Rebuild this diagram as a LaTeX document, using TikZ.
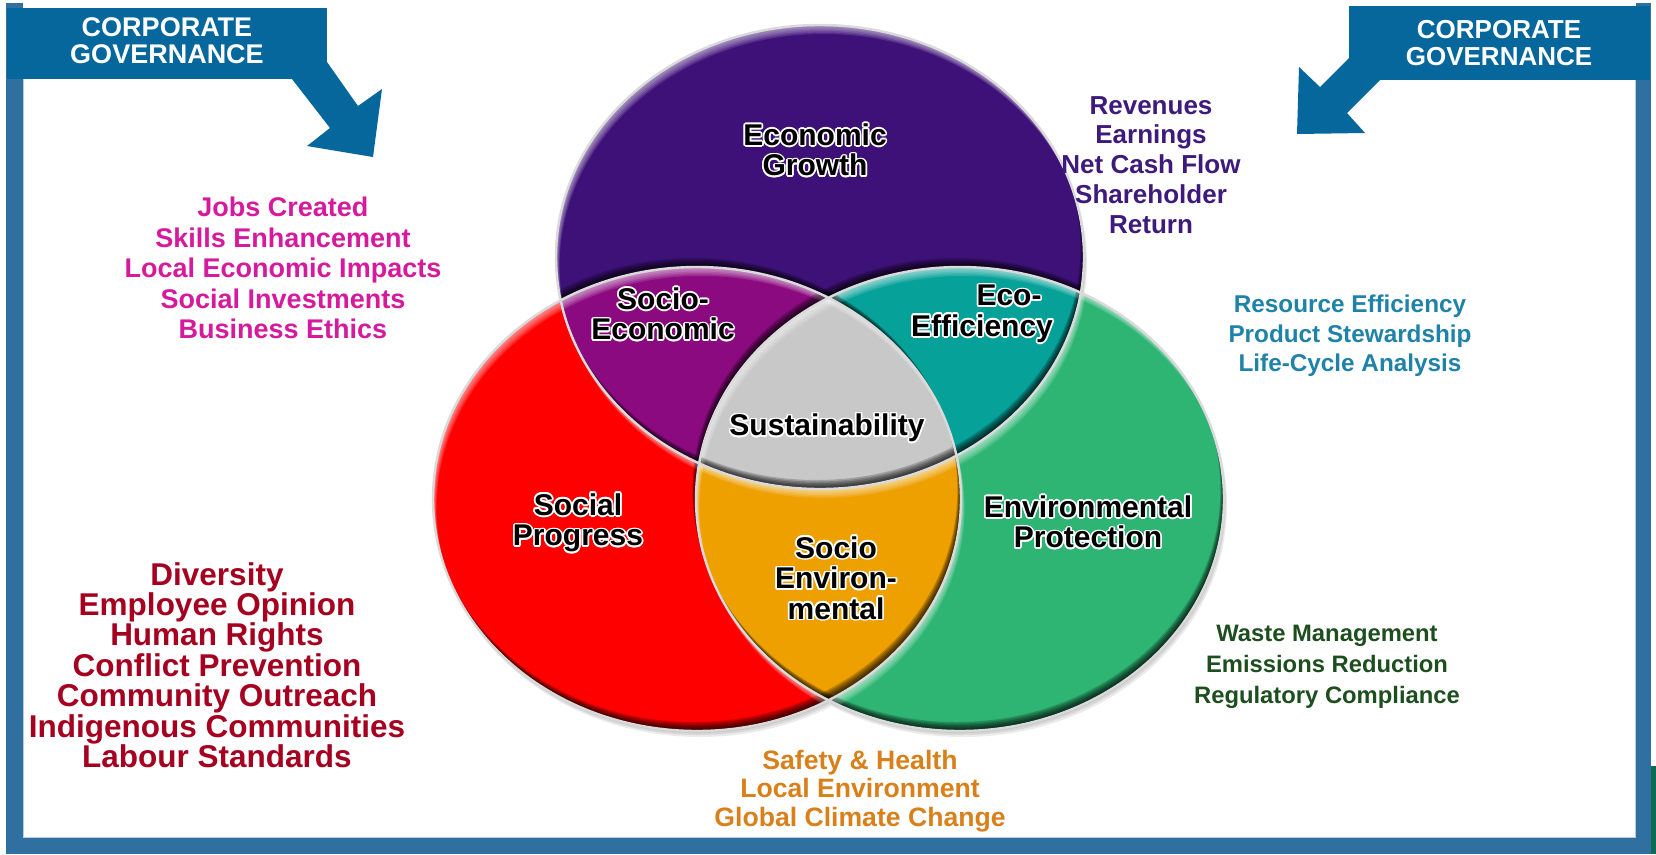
\documentclass[tikz,border=0pt]{standalone}
\usepackage{fontspec}
\setmainfont{Liberation Sans}

\definecolor{govblue}{HTML}{05679B}
\definecolor{framebl}{HTML}{3070A0}
\definecolor{stripgreen}{HTML}{0C6B52}
\definecolor{econcol}{HTML}{3E1179}
\definecolor{soccol}{HTML}{FF0000}
\definecolor{envcol}{HTML}{2EB574}
\definecolor{soceconcol}{HTML}{8C0A80}
\definecolor{ecoeffcol}{HTML}{06A29A}
\definecolor{socenvcol}{HTML}{EDA000}
\definecolor{sustcol}{HTML}{C8C8C8}
\definecolor{rimgray}{HTML}{DADADA}
\definecolor{txtecon}{HTML}{3D1A7C}
\definecolor{txtsocecon}{HTML}{D51A9E}
\definecolor{txtres}{HTML}{1F83A9}
\definecolor{txtwaste}{HTML}{1D4E1E}
\definecolor{txtsoc}{HTML}{A5001F}
\definecolor{txtsafe}{HTML}{D9801B}

% dark edge at lower right, light edge at upper left of a region
\newcommand\bevel[2]{%
  \foreach \s in {1.5,3,...,9}{
    \foreach \reg in {#1}{
      \fill[black,opacity=.2,even odd rule,shift={(-.4*\s,-\s)}] (-80,-80) rectangle (1740,940) [\reg];
      \fill[white,opacity=.12,even odd rule,shift={(.4*\s,\s)}] (-80,-80) rectangle (1740,940) [\reg];
    }
    \foreach \reg in {#2}{
      \fill[black,opacity=.2,shift={(-.4*\s,-\s)},\reg];
      \fill[white,opacity=.12,shift={(.4*\s,\s)},\reg];
    }
  }
}

% black label with a white glow
\newcommand\circlelabel[3]{%
  \foreach \ang in {0,30,...,330}
    \node[inlabel,text=white,shift={(\ang:1.7pt)}] at (#2) {#3};
  \node[inlabel] (#1) at (#2) {#3};
}

\begin{document}
\begin{tikzpicture}[x=1pt,y=-1pt,
    econ/.style={insert path={(820,257) ellipse [x radius=264, y radius=232]}},
    soc/.style={insert path={(697,499) ellipse [x radius=264, y radius=232]}},
    env/.style={insert path={(960,499) ellipse [x radius=264, y radius=232]}},
    none/.style={},
    inlabel/.style={font=\fontsize{30}{30.5}\selectfont\bfseries, align=center, inner sep=0pt},
    sidetext/.style={align=center, inner sep=0pt},
    govtext/.style={text=white, font=\fontsize{27}{27}\selectfont\bfseries, align=center, inner sep=0pt}]

  % Background
  \useasboundingbox (0,0) rectangle (1656,854);
  \fill[white] (0,0) rectangle (1656,854);

  % Frame
  \fill[framebl] (6,3) rectangle (23,854);
  \fill[framebl] (6,838) rectangle (1651,854);
  \fill[framebl] (1636,3) rectangle (1651,854);
  \fill[stripgreen] (1651,766) rectangle (1656,854);
  \draw[framebl!35, line width=1.5pt] (23.7,79) -- (23.7,837.3) -- (1635.3,837.3) -- (1635.3,80);

  % Corporate governance banners
  \fill[govblue] (7,8) rectangle (327,79);
  \fill[govblue] (327,62) -- (358,106) -- (382,89) -- (373,157) -- (307,146) -- (330,128) -- (292,79) -- cycle;
  \node[govtext] (govleft) at (167,41) {CORPORATE\\GOVERNANCE};

  \fill[govblue] (1349,6) rectangle (1650,80);
  \fill[govblue] (1349,58) -- (1320,87) -- (1299,67) -- (1297,134) -- (1365,133) -- (1347,113) -- (1380,80) -- cycle;
  \node[govtext, font=\fontsize{26}{27}\selectfont\bfseries] (govright) at (1499,43) {CORPORATE\\GOVERNANCE};

  % Drop shadow
  \foreach \s in {2,4,6}
    \fill[black,opacity=.08,shift={(.5*\s,\s)},econ,soc,env];

  % Single circles
  \begin{scope}
    \clip[econ];
    \fill[econcol] (0,0) rectangle (1656,854);
    \bevel{econ}{soc,env}
  \end{scope}
  \begin{scope}
    \clip[soc];
    \fill[soccol] (0,0) rectangle (1656,854);
    \bevel{soc}{econ,env}
  \end{scope}
  \begin{scope}
    \clip[env];
    \fill[envcol] (0,0) rectangle (1656,854);
    \bevel{env}{econ,soc}
  \end{scope}

  % Overlaps of two
  \begin{scope}
    \clip[econ]; \clip[soc];
    \fill[soceconcol] (0,0) rectangle (1656,854);
    \bevel{econ,soc}{env}
  \end{scope}
  \begin{scope}
    \clip[econ]; \clip[env];
    \fill[ecoeffcol] (0,0) rectangle (1656,854);
    \bevel{econ,env}{soc}
  \end{scope}
  \begin{scope}
    \clip[soc]; \clip[env];
    \fill[socenvcol] (0,0) rectangle (1656,854);
    \bevel{soc,env}{econ}
  \end{scope}

  % Overlap of all three
  \begin{scope}
    \clip[econ]; \clip[soc]; \clip[env];
    \fill[sustcol] (0,0) rectangle (1656,854);
    \bevel{econ,soc,env}{none}
  \end{scope}

  % Rims
  \draw[rimgray, line width=2.4pt, econ, soc, env];

  % Circle labels
  \circlelabel{growth}{815,150}{Economic\\Growth}
  \circlelabel{socecon}{663,314}{Socio-\\Economic}
  \circlelabel{ecoeff}{982,314}{\hspace*{1.8em}Eco-\\Efficiency}
  \circlelabel{sust}{827,428}{Sustainability}
  \circlelabel{progress}{578,523}{Social\\Progress}
  \circlelabel{socenv}{836,578}{Socio\\Environ-\\mental}
  \circlelabel{protect}{1088,522}{Environmental\\Protection}

  % Side lists
  \node[sidetext, text=txtsocecon, font=\fontsize{27}{30.6}\selectfont\bfseries] (jobs) at (283,268)
    {Jobs Created\\Skills Enhancement\\Local Economic Impacts\\Social Investments\\Business Ethics};
  \node[sidetext, text=txtecon, font=\fontsize{26}{29.9}\selectfont\bfseries] (revenues) at (1151,165)
    {Revenues\\Earnings\\Net Cash Flow\\Shareholder\\Return};
  \node[sidetext, text=txtres, font=\fontsize{24.3}{29.6}\selectfont\bfseries] (resource) at (1350,336)
    {Resource Efficiency\\Product Stewardship\\Life-Cycle Analysis};
  \node[sidetext, text=txtwaste, font=\fontsize{23.8}{30.8}\selectfont\bfseries] (waste) at (1327,667)
    {Waste Management\\Emissions Reduction\\Regulatory Compliance};
  \node[sidetext, text=txtsoc, font=\fontsize{31.5}{30.4}\selectfont\bfseries] (diversity) at (217,665)
    {Diversity\\Employee Opinion\\Human Rights\\Conflict Prevention\\Community Outreach\\Indigenous Communities\\Labour Standards};
  \node[sidetext, text=txtsafe, font=\fontsize{26.6}{28.5}\selectfont\bfseries] (safety) at (860,791)
    {Safety \& Health\\Local Environment\\Global Climate Change};
\end{tikzpicture}
\end{document}
